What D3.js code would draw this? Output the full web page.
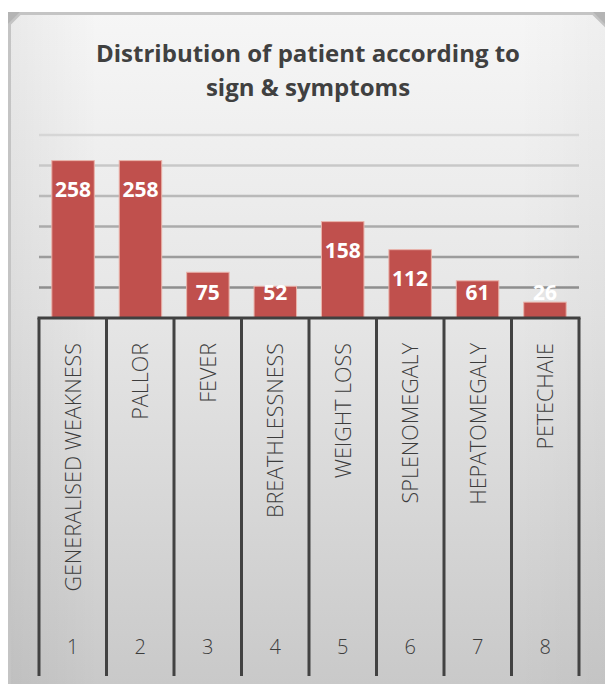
<!DOCTYPE html>
<html>
<head>
<meta charset="utf-8">
<script src="https://cdn.jsdelivr.net/npm/d3@7"></script>
<style>
  body { margin: 0; background: #fff; }
  text { font-family: "Open Sans", "DejaVu Sans", sans-serif; }
</style>
</head>
<body>
<div id="chart"></div>
<script>
// Chart data
var categories = ["GENERALISED WEAKNESS", "PALLOR", "FEVER", "BREATHLESSNESS",
  "WEIGHT LOSS", "SPLENOMEGALY", "HEPATOMEGALY", "PETECHAIE"];
var rowNumbers = ["1", "2", "3", "4", "5", "6", "7", "8"];
var patients = [258, 258, 75, 52, 158, 112, 61, 26];
var gridTicks = [50, 100, 150, 200, 250, 300];

var svgWidth = 605;
var svgHeight = 684;

var margin = { top: 135, left: 39, right: 26, bottom: 366 };
var baseline = 318;

var svg = d3.select("#chart")
  .append("svg")
  .attr("width", svgWidth)
  .attr("height", svgHeight);

// background gradient of the chart area
var defs = svg.append("defs");
var grad = defs.append("linearGradient")
  .attr("id", "bg")
  .attr("x1", 0).attr("y1", 0).attr("x2", 0).attr("y2", 1);
grad.append("stop").attr("offset", "0%").attr("stop-color", "#f6f6f6");
grad.append("stop").attr("offset", "45%").attr("stop-color", "#e6e6e6");
grad.append("stop").attr("offset", "100%").attr("stop-color", "#c9c9c9");

var side = defs.append("linearGradient")
  .attr("id", "side")
  .attr("x1", 0).attr("y1", 0).attr("x2", 1).attr("y2", 0);
side.append("stop").attr("offset", "0%").attr("stop-color", "#000").attr("stop-opacity", 0.05);
side.append("stop").attr("offset", "15%").attr("stop-color", "#000").attr("stop-opacity", 0);
side.append("stop").attr("offset", "85%").attr("stop-color", "#000").attr("stop-opacity", 0);
side.append("stop").attr("offset", "100%").attr("stop-color", "#000").attr("stop-opacity", 0.03);

// frame with bevelled top corners
svg.append("path")
  .attr("d", "M8,684 L8,24 L20,12 L593,12 L609,28 L609,684 Z")
  .attr("fill", "url(#bg)");
svg.append("path")
  .attr("d", "M8,684 L8,24 L20,12 L593,12 L609,28 L609,684 Z")
  .attr("fill", "url(#side)");
svg.append("path")
  .attr("d", "M9.5,684 L9.5,24 L20,13.5 L593,13.5 L609,29")
  .attr("fill", "none")
  .attr("stroke", "#c4c4c4")
  .attr("stroke-width", 3);
svg.append("path")
  .attr("d", "M8,12 L20,12 L8,24 Z")
  .attr("fill", "#b4b4b4");
svg.append("path")
  .attr("d", "M593,12 L605,12 L605,24 Z")
  .attr("fill", "#b4b4b4");

// title
var title = svg.append("text")
  .attr("text-anchor", "middle")
  .attr("font-size", "24px")
  .attr("font-weight", "bold")
  .attr("fill", "#404040");
title.append("tspan").attr("x", 308).attr("y", 62).text("Distribution of patient according to");
title.append("tspan").attr("x", 308).attr("y", 96).text("sign & symptoms");

// scales
var x = d3.scaleBand()
  .domain(categories)
  .range([margin.left, svgWidth - margin.right])
  .padding(0);

var xBar = d3.scaleBand()
  .domain(categories)
  .range([margin.left, svgWidth - margin.right])
  .paddingInner(0.37)
  .paddingOuter(0.19);

var y = d3.scaleLinear()
  .domain([0, 300])
  .range([baseline, margin.top]);

var gridColor = d3.scaleLinear()
  .domain([50, 300])
  .range(["#8e8e8e", "#d6d6d6"]);

// gridlines
svg.append("g")
  .selectAll("line")
  .data(gridTicks)
  .enter()
  .append("line")
  .attr("x1", margin.left)
  .attr("x2", svgWidth - margin.right)
  .attr("y1", d => y(d))
  .attr("y2", d => y(d))
  .attr("stroke", d => gridColor(d))
  .attr("stroke-width", 2.5);

// bars
svg.append("g")
  .selectAll("rect")
  .data(patients)
  .enter()
  .append("rect")
  .attr("x", (d, i) => xBar(categories[i]))
  .attr("y", d => y(d))
  .attr("width", xBar.bandwidth())
  .attr("height", d => y(0) - y(d))
  .attr("fill", "#c0504d")
  .attr("stroke", "#eab3aa")
  .attr("stroke-width", 1);

// value labels
svg.append("g")
  .selectAll("text")
  .data(patients)
  .enter()
  .append("text")
  .attr("x", (d, i) => xBar(categories[i]) + xBar.bandwidth() / 2)
  .attr("y", d => Math.min(y(d) + 29, y(0) - 26))
  .attr("dy", "0.36em")
  .attr("text-anchor", "middle")
  .attr("font-size", "21px")
  .attr("font-weight", "bold")
  .attr("fill", "#fff")
  .text(d => d);

// category table below the plot
var table = svg.append("g");

table.append("line")
  .attr("x1", margin.left - 1.5)
  .attr("x2", svgWidth - margin.right + 1.5)
  .attr("y1", baseline)
  .attr("y2", baseline)
  .attr("stroke", "#404040")
  .attr("stroke-width", 3);

var edges = categories.map(c => x(c)).concat([svgWidth - margin.right]);

table.selectAll(".cell-line")
  .data(edges)
  .enter()
  .append("line")
  .attr("class", "cell-line")
  .attr("x1", d => d)
  .attr("x2", d => d)
  .attr("y1", baseline)
  .attr("y2", 676)
  .attr("stroke", "#424242")
  .attr("stroke-width", 3);

table.selectAll(".cat")
  .data(categories)
  .enter()
  .append("text")
  .attr("class", "cat")
  .attr("transform", d => `translate(${x(d) + x.bandwidth() / 2}, 343) rotate(-90)`)
  .attr("dy", "0.36em")
  .attr("text-anchor", "end")
  .attr("font-size", "21.5px")
  .attr("font-weight", 300)
  .attr("fill", "#3c3c3c")
  .text(d => d);

table.selectAll(".num")
  .data(rowNumbers)
  .enter()
  .append("text")
  .attr("class", "num")
  .attr("x", (d, i) => x(categories[i]) + x.bandwidth() / 2)
  .attr("y", 647)
  .attr("dy", "0.36em")
  .attr("text-anchor", "middle")
  .attr("font-size", "20px")
  .attr("font-weight", 300)
  .attr("fill", "#3c3c3c")
  .text(d => d);
</script>
</body>
</html>
